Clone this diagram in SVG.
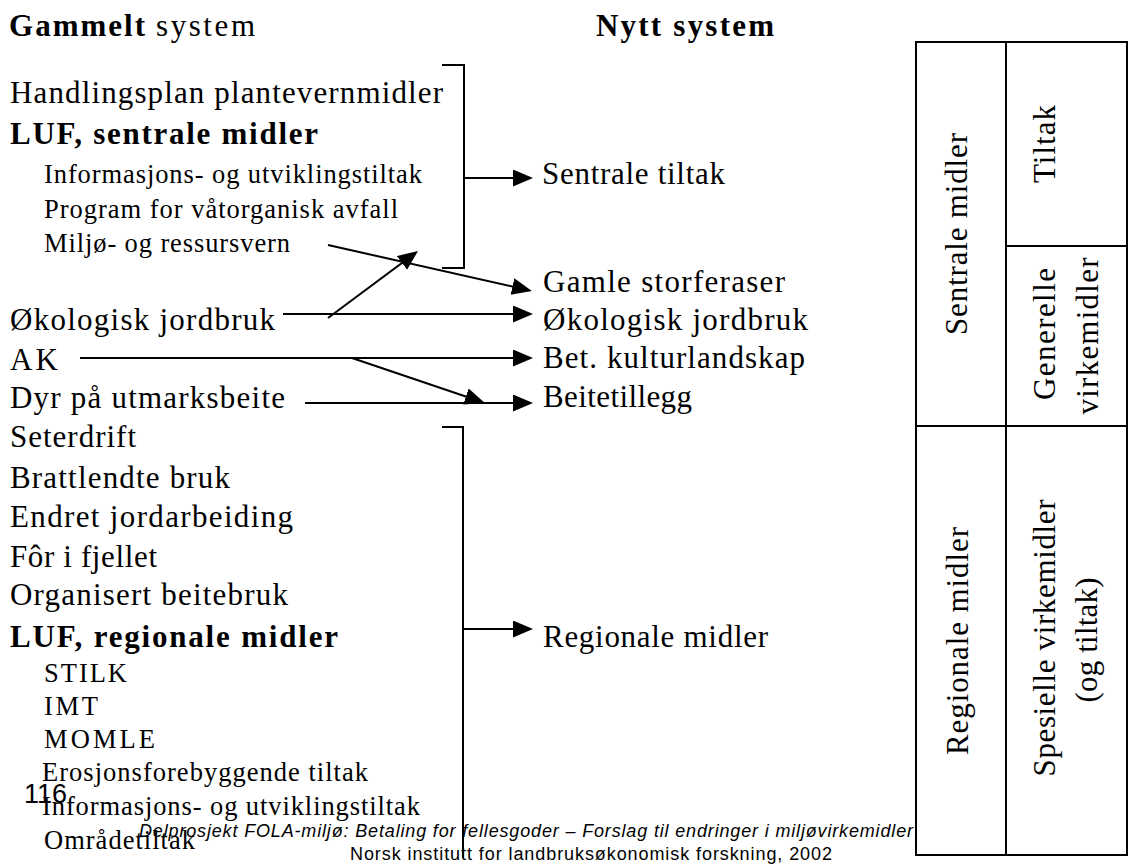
<svg xmlns="http://www.w3.org/2000/svg" width="1129" height="867" viewBox="0 0 1129 867">
<style>
.t{font-family:"Liberation Serif",serif;font-size:31px;fill:#000}
.s{font-family:"Liberation Serif",serif;font-size:26.5px;fill:#000}
.b{font-weight:bold}
.f{font-family:"Liberation Sans",Arial,sans-serif;fill:#000}
.ln{stroke:#000;stroke-width:2;fill:none}
</style>
<defs>
<marker id="ah" markerUnits="userSpaceOnUse" markerWidth="20" markerHeight="18" refX="17" refY="8.5" orient="auto">
<path d="M0,0 L20,8.5 L0,17 z" fill="#000"/>
</marker>
</defs>
<rect width="1129" height="867" fill="#fff"/>
<g id="headings">
<text class="t b" x="9" y="36" textLength="136">Gammelt</text>
<text class="t" x="156" y="36" textLength="99">system</text>
<text class="t b" x="596" y="36" textLength="178">Nytt system</text>
</g>
<g id="old-central">
<text class="t" x="10" y="103" textLength="433">Handlingsplan plantevernmidler</text>
<text class="t b" x="10" y="144" textLength="308">LUF, sentrale midler</text>
<text class="s" x="44" y="183" textLength="378">Informasjons- og utviklingstiltak</text>
<text class="s" x="44" y="218" textLength="354">Program for våtorganisk avfall</text>
<text class="s" x="44" y="252" textLength="246">Miljø- og ressursvern</text>
</g>
<g id="old-oko"><text class="t" x="10" y="330" textLength="265">Økologisk jordbruk</text></g>
<g id="old-ak"><text class="t" x="10" y="370" textLength="48">AK</text></g>
<g id="old-dyr"><text class="t" x="10" y="408" textLength="275">Dyr på utmarksbeite</text></g>
<g id="old-regional">
<text class="t" x="10" y="447" textLength="126">Seterdrift</text>
<text class="t" x="10" y="488" textLength="220">Brattlendte bruk</text>
<text class="t" x="10" y="527" textLength="283">Endret jordarbeiding</text>
<text class="t" x="10" y="567" textLength="147">Fôr i fjellet</text>
<text class="t" x="10" y="605" textLength="278">Organisert beitebruk</text>
<text class="t b" x="10" y="647" textLength="328">LUF, regionale midler</text>
<text class="s" x="44" y="682" textLength="83">STILK</text>
<text class="s" x="44" y="715" textLength="54">IMT</text>
<text class="s" x="44" y="748" textLength="111">MOMLE</text>
<text class="s" x="42" y="781" textLength="326">Erosjonsforebyggende tiltak</text>
<text class="s" x="42" y="815" textLength="378">Informasjons- og utviklingstiltak</text>
<text class="s" x="44" y="849" textLength="151">Områdetiltak</text>
</g>
<g id="new-sentrale-tiltak"><text class="t" x="542" y="184" textLength="183">Sentrale tiltak</text></g>
<g id="new-gamle"><text class="t" x="543" y="292" textLength="242">Gamle storferaser</text></g>
<g id="new-oko"><text class="t" x="543" y="330" textLength="265">Økologisk jordbruk</text></g>
<g id="new-bet"><text class="t" x="543" y="368" textLength="262">Bet. kulturlandskap</text></g>
<g id="new-beite"><text class="t" x="543" y="407" textLength="149">Beitetillegg</text></g>
<g id="new-regionale"><text class="t" x="543" y="647" textLength="225">Regionale midler</text></g>
<g id="connectors">
<path class="ln" d="M442,65 H464 V268 H442"/>
<path class="ln" d="M442,427 H463 V858"/>
<line class="ln" x1="464" y1="178" x2="530" y2="178" marker-end="url(#ah)"/>
<line class="ln" x1="463" y1="629" x2="530" y2="629" marker-end="url(#ah)"/>
<line class="ln" x1="328" y1="245" x2="529" y2="290.3" marker-end="url(#ah)"/>
<line class="ln" x1="328" y1="318" x2="415.6" y2="252.8" marker-end="url(#ah)"/>
<line class="ln" x1="283" y1="314" x2="530" y2="314" marker-end="url(#ah)"/>
<line class="ln" x1="80" y1="358" x2="530" y2="358" marker-end="url(#ah)"/>
<line class="ln" x1="352" y1="358" x2="482" y2="402" marker-end="url(#ah)"/>
<line class="ln" x1="305" y1="403" x2="530" y2="403" marker-end="url(#ah)"/>
</g>
<g id="table">
<path class="ln" d="M916,42 V855 H1127 V42 Z M1006,42 V855 M1006,246 H1127 M916,426 H1127"/>
<text class="t" transform="translate(967,234) rotate(-90)" text-anchor="middle" textLength="202">Sentrale midler</text>
<text class="t" transform="translate(1055,144) rotate(-90)" text-anchor="middle" textLength="78">Tiltak</text>
<text class="t" transform="translate(1055,334) rotate(-90)" text-anchor="middle" textLength="132">Generelle</text>
<text class="t" transform="translate(1098,336) rotate(-90)" text-anchor="middle" textLength="157">virkemidler</text>
<text class="t" transform="translate(968,641) rotate(-90)" text-anchor="middle" textLength="228">Regionale midler</text>
<text class="t" transform="translate(1055,638) rotate(-90)" text-anchor="middle" textLength="277">Spesielle virkemidler</text>
<text class="t" transform="translate(1097,640) rotate(-90)" text-anchor="middle" textLength="125">(og tiltak)</text>
</g>
<g id="footer">
<text class="f" x="24" y="803" font-size="27">116</text>
<text class="f" x="139" y="837" font-size="18" font-style="italic" textLength="774">Delprosjekt FOLA-miljø: Betaling for fellesgoder – Forslag til endringer i miljøvirkemidler</text>
<text class="f" x="350" y="860" font-size="18" textLength="482">Norsk institutt for landbruksøkonomisk forskning, 2002</text>
</g>
</svg>
